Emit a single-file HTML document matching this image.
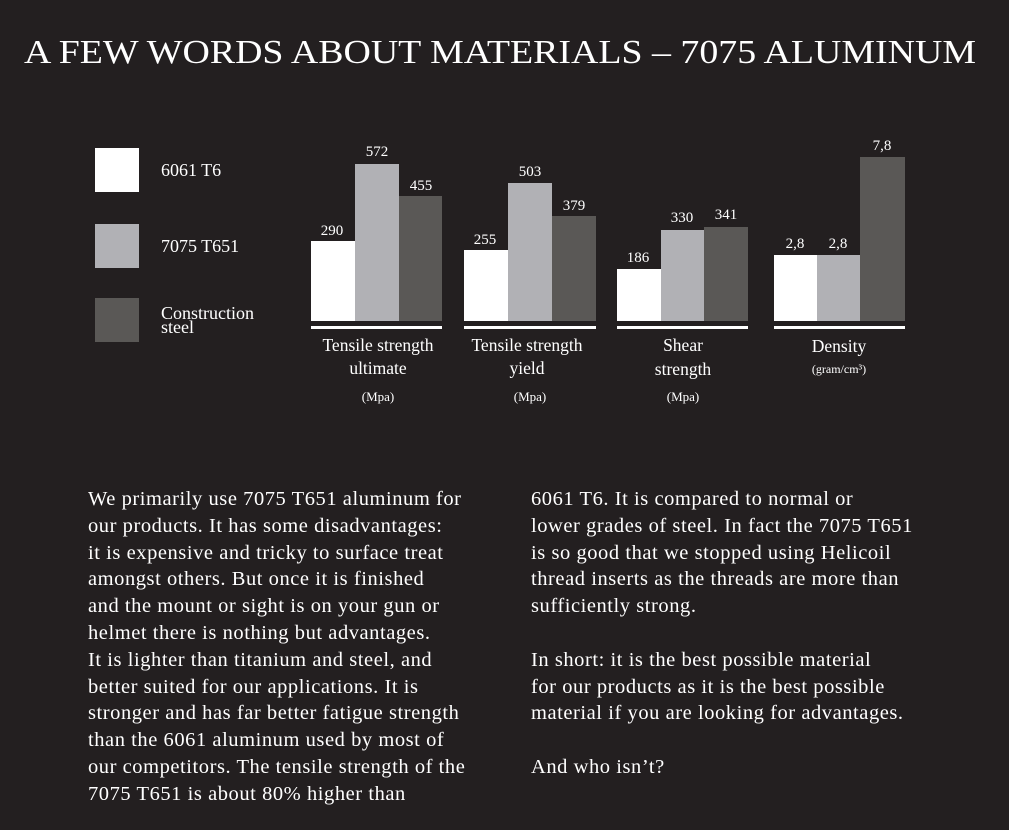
<!DOCTYPE html>
<html><head><meta charset="utf-8"><style>
html,body{margin:0;padding:0;background:#231f20;}
body{width:1009px;height:830px;overflow:hidden;position:relative;font-family:"Liberation Serif",serif;color:#fff;}
.p{position:absolute;font-size:20.5px;letter-spacing:0.55px;line-height:26.8px;white-space:nowrap;}
</style></head><body>
<svg width="1009" height="830" style="position:absolute;left:0;top:0" font-family="Liberation Serif, serif" fill="#fff">
<text x="500" y="63" text-anchor="middle" font-size="34" textLength="952" lengthAdjust="spacingAndGlyphs">A FEW WORDS ABOUT MATERIALS – 7075 ALUMINUM</text>
<rect x="95" y="148" width="44" height="44" fill="#fff"/>
<rect x="95" y="224" width="44" height="44" fill="#b1b1b5"/>
<rect x="95" y="298" width="44" height="44" fill="#5a5856"/>
<text x="161" y="176" font-size="18">6061 T6</text>
<text x="161" y="252" font-size="18">7075 T651</text>
<text x="161" y="319" font-size="18">Construction</text>
<text x="161" y="333" font-size="18">steel</text>
<g font-size="15" text-anchor="middle">
<rect x="311" y="241" width="44" height="80" fill="#fff"/>
<rect x="355" y="164" width="44" height="157" fill="#b1b1b5"/>
<rect x="399" y="196" width="43" height="125" fill="#5a5856"/>
<text x="332" y="235">290</text><text x="377" y="156">572</text><text x="421" y="190">455</text>
<rect x="464" y="250" width="44" height="71" fill="#fff"/>
<rect x="508" y="183" width="44" height="138" fill="#b1b1b5"/>
<rect x="552" y="216" width="44" height="105" fill="#5a5856"/>
<text x="485" y="244">255</text><text x="530" y="176">503</text><text x="574" y="210">379</text>
<rect x="617" y="269" width="44" height="52" fill="#fff"/>
<rect x="661" y="230" width="43" height="91" fill="#b1b1b5"/>
<rect x="704" y="227" width="44" height="94" fill="#5a5856"/>
<text x="638" y="262">186</text><text x="682" y="222">330</text><text x="726" y="219">341</text>
<rect x="774" y="255" width="43" height="66" fill="#fff"/>
<rect x="817" y="255" width="43" height="66" fill="#b1b1b5"/>
<rect x="860" y="157" width="45" height="164" fill="#5a5856"/>
<text x="795" y="248">2,8</text><text x="838" y="248">2,8</text><text x="882" y="150">7,8</text>
</g>
<g fill="#fff">
<rect x="311" y="326" width="131" height="3"/>
<rect x="464" y="326" width="132" height="3"/>
<rect x="617" y="326" width="131" height="3"/>
<rect x="774" y="326" width="131" height="3"/>
</g>
<g text-anchor="middle" font-size="17.5">
<text x="378" y="351">Tensile strength</text><text x="378" y="374">ultimate</text>
<text x="378" y="401" font-size="13">(Mpa)</text>
<text x="527" y="351">Tensile strength</text><text x="527" y="374">yield</text>
<text x="530" y="401" font-size="13">(Mpa)</text>
<text x="683" y="351">Shear</text><text x="683" y="375">strength</text>
<text x="683" y="401" font-size="13">(Mpa)</text>
<text x="839" y="352">Density</text>
<text x="839" y="373" font-size="12">(gram/cm³)</text>
</g>
</svg>
<div class="p" style="left:88px;top:486px">We primarily use 7075 T651 aluminum for<br>our products. It has some disadvantages:<br>it is expensive and tricky to surface treat<br>amongst others. But once it is finished<br>and the mount or sight is on your gun or<br>helmet there is nothing but advantages.<br>It is lighter than titanium and steel, and<br>better suited for our applications. It is<br>stronger and has far better fatigue strength<br>than the 6061 aluminum used by most of<br>our competitors. The tensile strength of the<br>7075 T651 is about 80% higher than</div>
<div class="p" style="left:531px;top:486px">6061 T6. It is compared to normal or<br>lower grades of steel. In fact the 7075 T651<br>is so good that we stopped using Helicoil<br>thread inserts as the threads are more than<br>sufficiently strong.<br><br>In short: it is the best possible material<br>for our products as it is the best possible<br>material if you are looking for advantages.<br><br>And who isn’t?</div>
</body></html>
